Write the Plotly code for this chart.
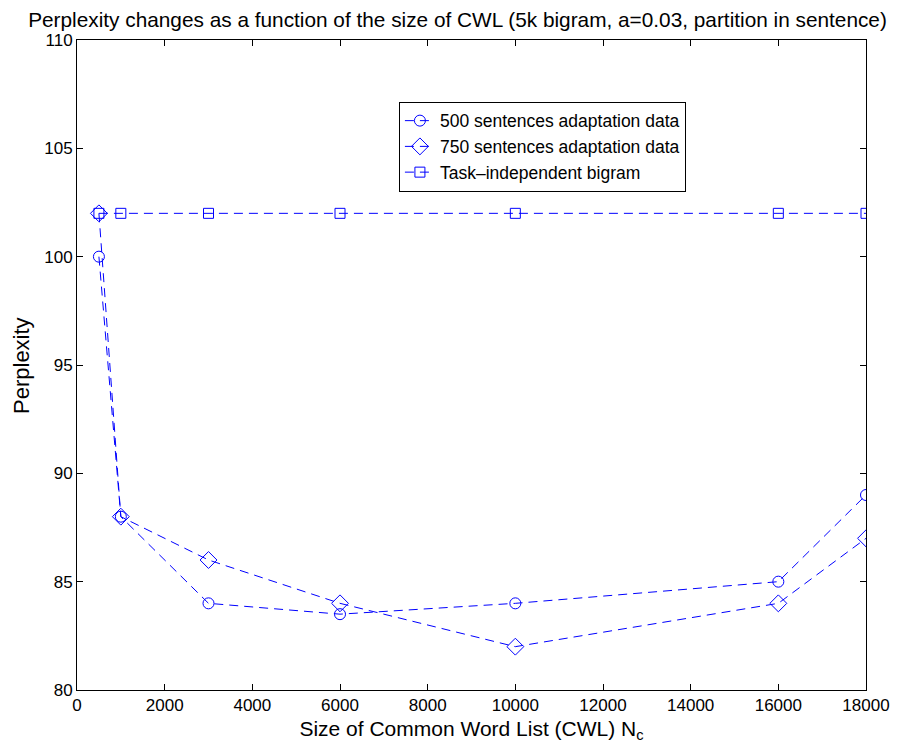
import plotly.graph_objects as go

x_cwl = [500, 1000, 3000, 6000, 10000, 16000, 18000]
ppl_500 = [100, 88, 84, 83.5, 84, 85, 89]
ppl_750 = [102, 88, 86, 84, 82, 84, 87]
ppl_indep = [102, 102, 102, 102, 102, 102, 102]

x_ticks = [0, 2000, 4000, 6000, 8000, 10000, 12000, 14000, 16000, 18000]
y_ticks = [80, 85, 90, 95, 100, 105, 110]

names = ["500 sentences adaptation data", "750 sentences adaptation data", "Task\u2013independent bigram"]
symbols = ["circle-open", "diamond-open", "square-open"]
sizes = [11, 13, 10]
series = [ppl_500, ppl_750, ppl_indep]

blue = "rgb(0,0,255)"
font = "Liberation Sans, Arial, sans-serif"

fig = go.Figure()
for name, sym, sz, ys in zip(names, symbols, sizes, series):
    fig.add_trace(go.Scatter(
        x=x_cwl, y=ys, name=name, mode="lines+markers",
        line=dict(color=blue, width=1, dash="9px,6px"),
        marker=dict(symbol=sym, size=sz, color=blue, line=dict(color=blue, width=1)),
    ))

axis_common = dict(
    showgrid=False, zeroline=False, showline=True, linecolor="black", linewidth=1,
    mirror="ticks", ticks="inside", ticklen=6, tickcolor="black", automargin=False,
    tickfont=dict(family=font, size=17, color="black"),
)

fig.update_layout(
    width=899, height=737,
    paper_bgcolor="white", plot_bgcolor="white",
    margin=dict(l=69, r=41, t=32, b=55),
    title=dict(text="Perplexity changes as a function of the size of CWL (5k bigram, a=0.03, partition in sentence)",
               x=0.5, xanchor="center", y=0.984, yanchor="middle",
               font=dict(family=font, size=20.8, color="black")),
    xaxis=dict(range=[0, 18000], tickvals=x_ticks, ticktext=[str(v) for v in x_ticks],
               title=dict(text="Size of Common Word List (CWL) N<sub>c</sub>", standoff=6,
                          font=dict(family=font, size=21, color="black")),
               **axis_common),
    yaxis=dict(range=[80, 110], tickvals=y_ticks, ticktext=[str(v) for v in y_ticks],
               **axis_common),
    annotations=[dict(text="Perplexity", xref="paper", yref="paper", x=-0.071, y=0.5,
                      xanchor="center", yanchor="middle", textangle=-90, showarrow=False,
                      font=dict(family=font, size=22, color="black"))],
    legend=dict(x=0.408, y=0.905, xanchor="left", yanchor="top",
                bgcolor="white", bordercolor="black", borderwidth=1,
                font=dict(family=font, size=17.5, color="black"),
                itemwidth=30, tracegroupgap=0),
    showlegend=True,
)

fig.write_html("out.html")
